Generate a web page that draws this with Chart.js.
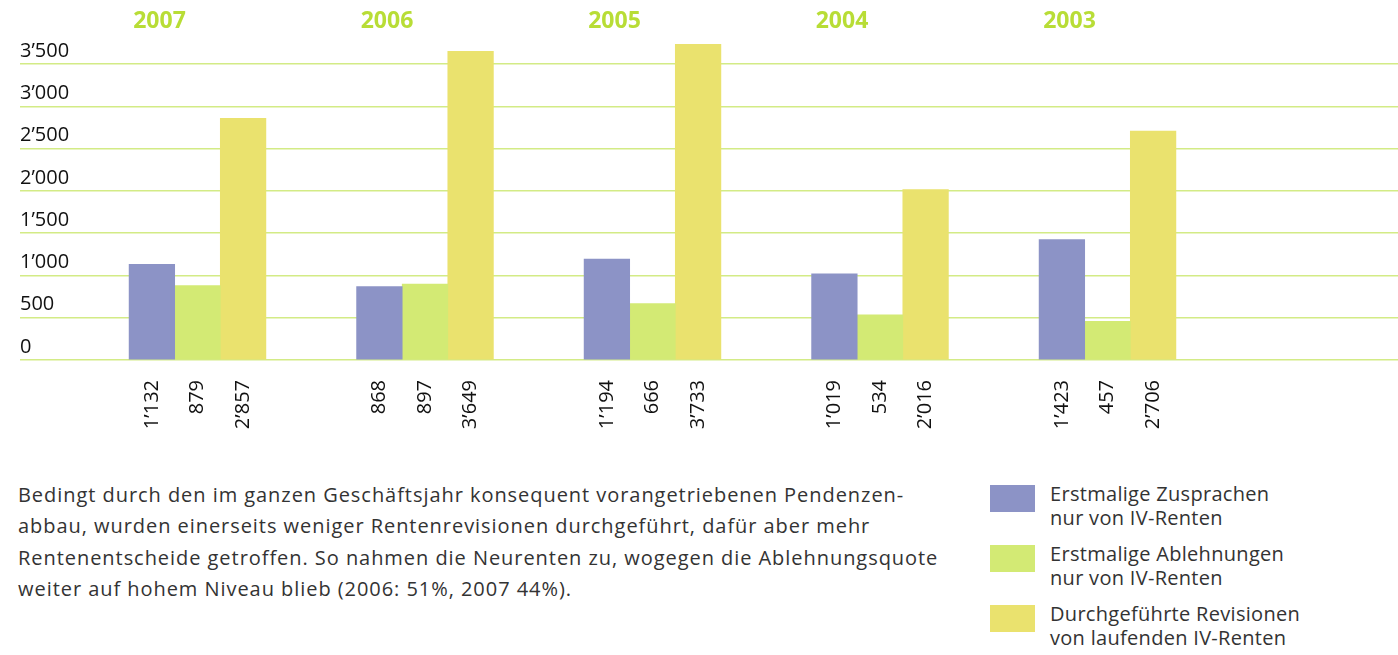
<!DOCTYPE html>
<html lang="de">
<head>
<meta charset="utf-8">
<title>IV-Renten 2003–2007</title>
<script src="https://cdn.jsdelivr.net/npm/chart.js@4/dist/chart.umd.min.js"></script>
<style>
  body { margin: 0; background: #fff; font-family: "Open Sans", "Noto Sans", sans-serif; color: #333; }
  #seite { position: relative; width: 1398px; height: 655px; overflow: hidden; }
  #diagramm-box { position: absolute; left: 0; top: 0; width: 1398px; height: 470px; }
  #text { position: absolute; left: 18px; top: 479px; font-size: 20px; line-height: 31.3px; letter-spacing: 0.95px; color: #333; white-space: nowrap; }
  #legende { position: absolute; left: 990px; top: 482px; }
  .eintrag { position: relative; height: 60px; }
  .farbe { position: absolute; left: 0; top: 3px; width: 45px; height: 27px; }
  .beschriftung { position: absolute; left: 60px; top: 0; font-size: 20px; line-height: 24px; letter-spacing: 0.3px; white-space: nowrap; color: #333; }
</style>
</head>
<body>
<div id="seite">
  <div id="diagramm-box"><canvas id="diagramm"></canvas></div>
  <div id="text">
    Bedingt durch den im ganzen Geschäftsjahr konsequent vorangetriebenen Pendenzen-<br>
    abbau, wurden einerseits weniger Rentenrevisionen durchgeführt, dafür aber mehr<br>
    Rentenentscheide getroffen. So nahmen die Neurenten zu, wogegen die Ablehnungsquote<br>
    weiter auf hohem Niveau blieb (2006: 51%, 2007 44%).
  </div>
  <div id="legende"></div>
</div>
<script>
// Daten aus der Grafik
const jahre = ["2007", "2006", "2005", "2004", "2003"];
const zusprachen = [1132, 868, 1194, 1019, 1423];
const ablehnungen = [879, 897, 666, 534, 457];
const revisionen = [2857, 3649, 3733, 2016, 2706];
const serienNamen = [
  ["Erstmalige Zusprachen", "nur von IV-Renten"],
  ["Erstmalige Ablehnungen", "nur von IV-Renten"],
  ["Durchgeführte Revisionen", "von laufenden IV-Renten"]
];
const farben = ["#8c93c6", "#d3ea74", "#eae26e"];

function formatZahl(wert) {
  if (wert < 1000) return String(wert);
  return Math.floor(wert / 1000) + "\u2019" + String(wert % 1000).padStart(3, "0");
}

function punkte(werte) {
  return werte.map(function (wert, i) {
    return { x: i, y: wert };
  });
}

const beschriftungen = {
  id: "beschriftungen",
  afterDatasetsDraw(chart) {
    const ctx = chart.ctx;
    const xAchse = chart.scales.x;
    ctx.save();
    // Jahre oben
    ctx.font = "bold 23px 'Open Sans'";
    ctx.fillStyle = "#b8dd36";
    ctx.textAlign = "center";
    ctx.textBaseline = "middle";
    jahre.forEach(function (jahr, i) {
      ctx.fillText(jahr, xAchse.getPixelForValue(i) - 38, 21);
    });
    // Werte unter den Balken
    ctx.font = "20px 'Open Sans'";
    ctx.fillStyle = "#111";
    ctx.textAlign = "right";
    chart.data.datasets.forEach(function (ds, d) {
      chart.getDatasetMeta(d).data.forEach(function (balken, i) {
        ctx.save();
        ctx.translate(balken.x, chart.chartArea.bottom + 20);
        ctx.rotate(-Math.PI / 2);
        ctx.fillText(formatZahl(ds.data[i].y), 0, 0);
        ctx.restore();
      });
    });
    ctx.restore();
  }
};

const ctx = document.getElementById("diagramm").getContext("2d");
new Chart(ctx, {
  type: "bar",
  data: {
    datasets: [
      { label: serienNamen[0].join(" "), data: punkte(zusprachen), backgroundColor: farben[0] },
      { label: serienNamen[1].join(" "), data: punkte(ablehnungen), backgroundColor: farben[1] },
      { label: serienNamen[2].join(" "), data: punkte(revisionen), backgroundColor: farben[2] }
    ]
  },
  options: {
    responsive: true,
    maintainAspectRatio: false,
    animation: false,
    barThickness: 45.6,
    layout: { padding: { left: 20, right: 0, top: 21.7, bottom: 110 } },
    plugins: { legend: { display: false }, tooltip: { enabled: false } },
    scales: {
      x: {
        type: "linear",
        display: false,
        offset: false,
        min: -0.7802,
        max: 5.2769,
        ticks: { stepSize: 1, includeBounds: false }
      },
      y: {
        min: 0,
        max: 4000,
        border: { display: false },
        grid: {
          drawTicks: false,
          lineWidth: 1.5,
          color: function (c) {
            return c.tick && c.tick.value === 4000 ? "rgba(0,0,0,0)" : "#d3eb86";
          }
        },
        ticks: {
          stepSize: 500,
          mirror: true,
          padding: 0,
          labelOffset: -13,
          color: "#111",
          font: { family: "'Open Sans'", size: 20 },
          callback: function (wert) {
            return wert === 4000 ? "" : formatZahl(wert);
          }
        }
      }
    }
  },
  plugins: [beschriftungen]
});

// Legende
const legende = document.getElementById("legende");
serienNamen.forEach(function (zeilen, i) {
  const eintrag = document.createElement("div");
  eintrag.className = "eintrag";
  eintrag.innerHTML = '<div class="farbe" style="background:' + farben[i] + '"></div>' +
    '<div class="beschriftung">' + zeilen.join("<br>") + "</div>";
  legende.appendChild(eintrag);
});
</script>
</body>
</html>
